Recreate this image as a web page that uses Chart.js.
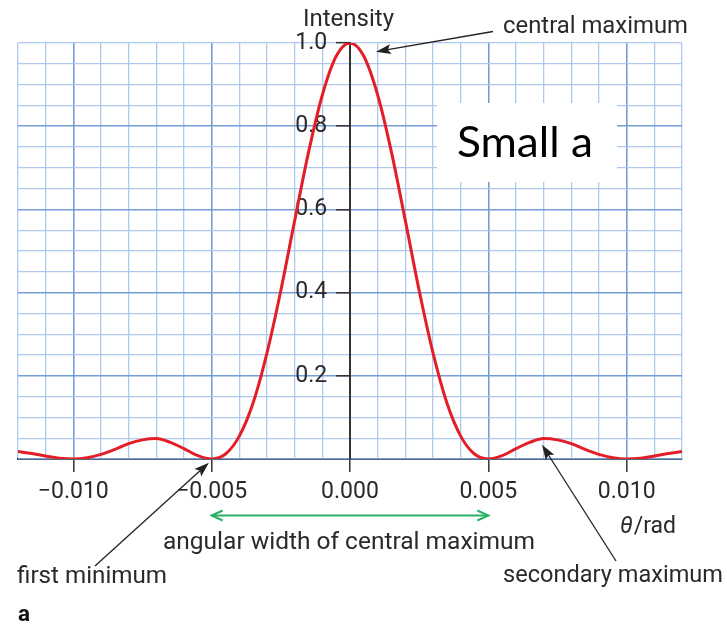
<!DOCTYPE html>
<html>
<head>
<meta charset="utf-8">
<script src="https://cdn.jsdelivr.net/npm/chart.js@4.4.1/dist/chart.umd.min.js"></script>
<style>
  html, body { margin: 0; padding: 0; background: #ffffff; }
  #wrap { width: 727px; height: 628px; position: relative; }
</style>
</head>
<body>
<div id="wrap"><canvas id="c"></canvas></div>
<script>
// Single-slit diffraction: intensity against angle (rad)
const theta = [
  -0.0120, -0.0115, -0.0110, -0.0105, -0.0100, -0.0095, -0.0090, -0.0085,
  -0.0080, -0.0075, -0.0070, -0.0065, -0.0060, -0.0055, -0.0050, -0.0045,
  -0.0040, -0.0035, -0.0030, -0.0025, -0.0020, -0.0015, -0.0010, -0.0005,
   0.0000,
   0.0005,  0.0010,  0.0015,  0.0020,  0.0025,  0.0030,  0.0035,  0.0040,
   0.0045,  0.0050,  0.0055,  0.0060,  0.0065,  0.0070,  0.0075,  0.0080,
   0.0085,  0.0090,  0.0095,  0.0100,  0.0105,  0.0110,  0.0115,  0.0120
];
const intensity = [
  0.018, 0.013, 0.007, 0.002, 0.000, 0.003, 0.011, 0.023,
  0.037, 0.046, 0.049, 0.040, 0.025, 0.008, 0.000, 0.012,
  0.055, 0.135, 0.255, 0.405, 0.573, 0.737, 0.875, 0.968,
  1.000,
  0.968, 0.875, 0.737, 0.573, 0.405, 0.255, 0.135, 0.055,
  0.012, 0.000, 0.008, 0.025, 0.040, 0.049, 0.046, 0.037,
  0.023, 0.011, 0.003, 0.000, 0.002, 0.007, 0.013, 0.018
];
const thetaTicks = [-0.010, -0.005, 0.000, 0.005, 0.010];
const intensityTicks = [0.2, 0.4, 0.6, 0.8, 1.0];

const INK = '#2a2a2a';
const GRID_MINOR = 'rgba(170,198,236,0.95)';
const GRID_MAJOR = 'rgba(118,158,214,1)';
const isIn = (v, list) => list.some(t => Math.abs(t - v) < 1e-9);
const isMajorX = v => Math.abs(Math.round(v / 0.005) * 0.005 - v) < 1e-9;
const isMajorY = v => Math.abs(Math.round(v / 0.2) * 0.2 - v) < 1e-9 && v < 0.999;

function fitText(ctx, str, left, baseline, width, font, color) {
  ctx.save();
  ctx.font = font;
  ctx.fillStyle = color;
  ctx.textAlign = 'left';
  ctx.textBaseline = 'alphabetic';
  const w = ctx.measureText(str).width;
  ctx.translate(left, baseline);
  ctx.scale(width / w, 1);
  ctx.fillText(str, 0, 0);
  ctx.restore();
}

function arrow(ctx, x0, y0, x1, y1, color, lw, headLen, headHalf) {
  const a = Math.atan2(y1 - y0, x1 - x0);
  ctx.save();
  ctx.strokeStyle = color;
  ctx.fillStyle = color;
  ctx.lineWidth = lw;
  ctx.beginPath();
  ctx.moveTo(x0, y0);
  ctx.lineTo(x1 - Math.cos(a) * headLen * 0.8, y1 - Math.sin(a) * headLen * 0.8);
  ctx.stroke();
  ctx.translate(x1, y1);
  ctx.rotate(a);
  ctx.beginPath();
  ctx.moveTo(0, 0);
  ctx.lineTo(-headLen, -headHalf);
  ctx.lineTo(-headLen * 0.8, 0);
  ctx.lineTo(-headLen, headHalf);
  ctx.closePath();
  ctx.fill();
  ctx.restore();
}

function openArrowHead(ctx, x, y, dir, len, half) {
  ctx.beginPath();
  ctx.moveTo(x - dir * len, y - half);
  ctx.lineTo(x, y);
  ctx.lineTo(x - dir * len, y + half);
  ctx.stroke();
}

const annotations = {
  id: 'annotations',
  afterDraw(chart) {
    const ctx = chart.ctx;
    const xs = chart.scales.x, ys = chart.scales.y;
    const f = '23px Roboto';

    // label box
    ctx.save();
    ctx.fillStyle = '#ffffff';
    ctx.fillRect(437, 103, 180, 79);
    ctx.restore();
    fitText(ctx, 'Small a', 457, 157, 136, '42px Lato', '#000000');

    fitText(ctx, 'Intensity', 303, 26, 91, f, INK);
    fitText(ctx, 'central maximum', 503, 33, 185, f, INK);
    fitText(ctx, 'first minimum', 17, 583, 150, f, INK);
    fitText(ctx, 'secondary maximum', 503, 582, 220, f, INK);
    fitText(ctx, 'angular width of central maximum', 163, 549, 372, f, INK);
    fitText(ctx, 'a', 18, 621, 12, 'bold 22px Roboto', '#111111');

    // θ/rad
    ctx.save();
    ctx.fillStyle = INK;
    ctx.font = 'italic 23px Roboto';
    ctx.textBaseline = 'alphabetic';
    ctx.fillText('θ', 620, 533);
    const tw = ctx.measureText('θ').width;
    ctx.font = '23px Roboto';
    ctx.fillText('/rad', 620 + tw + 1, 533);
    ctx.restore();

    // pointer arrows
    arrow(ctx, 493, 31.5, xs.getPixelForValue(0.00094), ys.getPixelForValue(0.979), '#222', 1.3, 15, 5);
    arrow(ctx, 95, 566, xs.getPixelForValue(-0.0051), ys.getPixelForValue(-0.009), '#222', 1.3, 15, 5);
    arrow(ctx, 616, 561, xs.getPixelForValue(0.00694), ys.getPixelForValue(0.034), '#222', 1.3, 15, 5);

    // width of central maximum
    const xa = xs.getPixelForValue(-0.005), xb = xs.getPixelForValue(0.005);
    const yw = 515.5;
    ctx.save();
    ctx.strokeStyle = 'rgb(40,178,100)';
    ctx.lineWidth = 2;
    ctx.beginPath();
    ctx.moveTo(xa, yw);
    ctx.lineTo(xb, yw);
    ctx.stroke();
    openArrowHead(ctx, xa, yw, -1, 11, 5);
    openArrowHead(ctx, xb, yw, 1, 11, 5);
    ctx.restore();
  }
};

new Chart(document.getElementById('c'), {
  type: 'line',
  data: {
    datasets: [{
      data: theta.map((t, i) => ({ x: t, y: intensity[i] })),
      borderColor: 'rgb(228,30,38)',
      borderWidth: 3,
      pointRadius: 0,
      fill: false,
      cubicInterpolationMode: 'monotone'
    }]
  },
  options: {
    responsive: true,
    maintainAspectRatio: false,
    animation: false,
    layout: { padding: { left: 18, right: 45, top: 43, bottom: 129 } },
    plugins: { legend: { display: false }, tooltip: { enabled: false } },
    scales: {
      x: {
        type: 'linear',
        min: -0.012,
        max: 0.012,
        afterFit: s => { s.height = 40; },
        border: { display: true, color: '#333333', width: 2, z: -1 },
        grid: {
          z: -1,
          color: c => isMajorX(c.tick.value) ? GRID_MAJOR : GRID_MINOR,
          lineWidth: c => isMajorX(c.tick.value) ? 1.6 : 1.3,
          tickColor: c => isIn(c.tick.value, thetaTicks) ? '#333333' : 'rgba(0,0,0,0)',
          tickWidth: 1.5,
          tickLength: 13,
          drawTicks: true
        },
        ticks: {
          stepSize: 0.001,
          autoSkip: false,
          maxRotation: 0,
          padding: 6,
          color: INK,
          font: { family: 'Roboto', size: 23 },
          callback: v => isIn(v, thetaTicks) ? (v < 0 ? '\u2212' : '') + Math.abs(v).toFixed(3) : ''
        }
      },
      y: {
        type: 'linear',
        position: { x: 0 },
        min: 0,
        max: 1,
        border: { display: true, color: '#333333', width: 2, z: -1 },
        grid: {
          z: -1,
          color: c => isMajorY(c.tick.value) ? GRID_MAJOR : GRID_MINOR,
          lineWidth: c => isMajorY(c.tick.value) ? 1.6 : 1.3,
          tickColor: c => isIn(c.tick.value, intensityTicks) ? '#333333' : 'rgba(0,0,0,0)',
          tickWidth: 1.5,
          tickLength: 13,
          drawTicks: true
        },
        ticks: {
          stepSize: 0.05,
          autoSkip: false,
          color: INK,
          font: { family: 'Roboto', size: 23 },
          // trailing spaces keep the centred-axis labels clear of the tick marks
          callback: v => isIn(v, intensityTicks) ? v.toFixed(1) + '    ' : ''
        }
      }
    }
  },
  plugins: [annotations]
});
</script>
</body>
</html>
